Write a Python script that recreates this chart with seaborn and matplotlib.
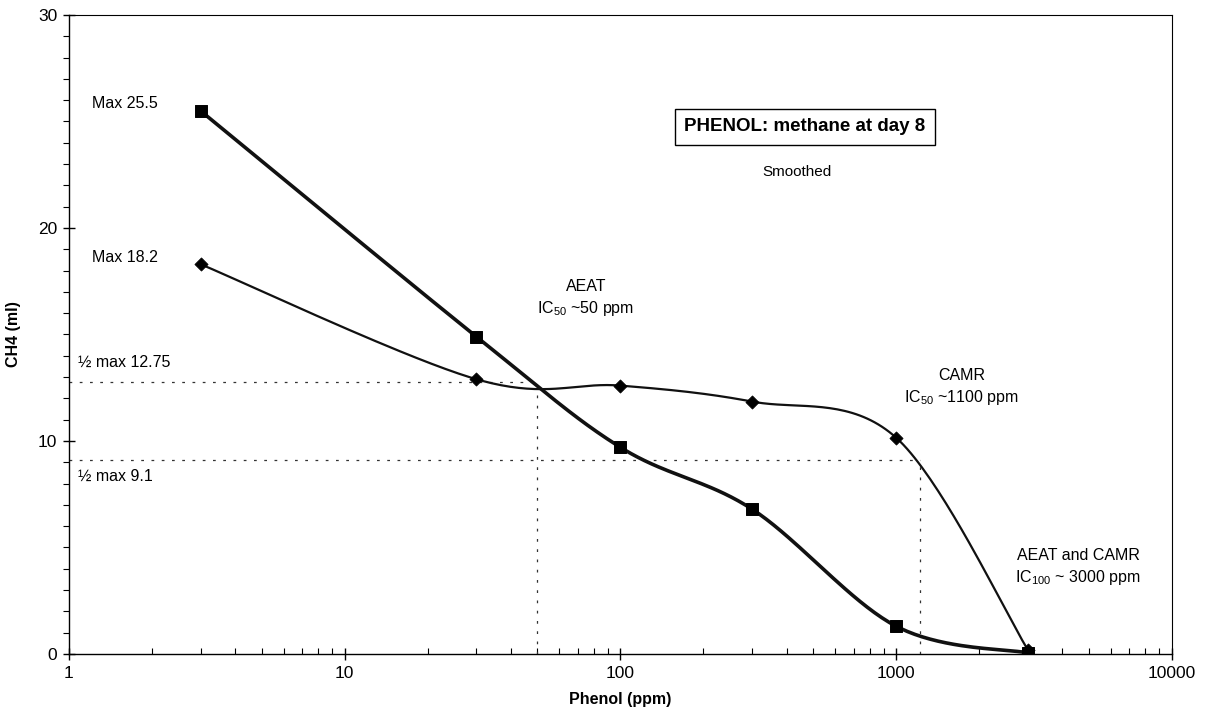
import numpy as np
import pandas as pd
import matplotlib
matplotlib.use("Agg")
import matplotlib.pyplot as plt
import seaborn as sns
from matplotlib.ticker import LogLocator, NullFormatter, FixedLocator, MultipleLocator, FuncFormatter

# ---- data ----
phenol_ppm = [3, 30, 100, 300, 1000, 3000]
aeat_ch4 = [25.5, 14.9, 9.7, 6.8, 1.3, 0.05]
camr_ch4 = [18.3, 12.9, 12.6, 11.85, 10.15, 0.2]
half_max_aeat = 12.75
half_max_camr = 9.1
ic50_aeat = 50
ic50_camr = 1220
x_ticks = [1, 10, 100, 1000, 10000]
y_ticks = [0, 10, 20, 30]

sns.set_style("white")
plt.rcParams["font.family"] = ["Liberation Sans", "DejaVu Sans"]
plt.rcParams["mathtext.fontset"] = "custom"
plt.rcParams["mathtext.rm"] = "Liberation Sans"
plt.rcParams["text.color"] = "black"
plt.rcParams["axes.labelcolor"] = "black"


def smooth(xs, ys, n=40):
    """Bezier (Catmull-Rom style) smoothing in log-x space, like a spreadsheet 'smoothed line'."""
    P = np.column_stack([np.log10(xs), np.asarray(ys, float)])
    Pe = np.vstack([P[0], P, P[-1]])
    out = []
    t = np.linspace(0, 1, n)[:, None]
    for i in range(len(P) - 1):
        p0, p1, p2, p3 = Pe[i], Pe[i + 1], Pe[i + 2], Pe[i + 3]
        b1 = p1 + (p2 - p0) / 6
        b2 = p2 - (p3 - p1) / 6
        seg = (1 - t) ** 3 * p1 + 3 * (1 - t) ** 2 * t * b1 + 3 * (1 - t) * t ** 2 * b2 + t ** 3 * p2
        out.append(seg if i == 0 else seg[1:])
    c = np.vstack(out)
    return 10 ** c[:, 0], c[:, 1]


fig = plt.figure(figsize=(12.06, 7.2), dpi=100)
ax = fig.add_axes([0.0572, 0.0917, 0.9146, 0.8875])
ax.set_xscale("log")

dash = (0, (2.2, 6))
dcol = "#333333"
ax.plot([1, ic50_aeat], [half_max_aeat, half_max_aeat], color=dcol, lw=0.9, ls=dash)
ax.plot([ic50_aeat, ic50_aeat], [0, 12.4], color=dcol, lw=0.9, ls=dash)
ax.plot([1, ic50_camr], [half_max_camr, half_max_camr], color=dcol, lw=0.9, ls=dash)
ax.plot([ic50_camr, ic50_camr], [0, half_max_camr], color=dcol, lw=0.9, ls=dash)

cx, cy = smooth(phenol_ppm, camr_ch4)
sns.lineplot(x=cx, y=cy, sort=False, estimator=None, ax=ax, color="#111111", lw=1.6)
ax_, ay_ = smooth(phenol_ppm, aeat_ch4)
sns.lineplot(x=ax_, y=ay_, sort=False, estimator=None, ax=ax, color="#111111", lw=2.6)

sns.scatterplot(x=phenol_ppm, y=camr_ch4, marker="D", s=45, color="black", edgecolor="black", ax=ax, zorder=5)
sns.scatterplot(x=phenol_ppm, y=aeat_ch4, marker="s", s=75, color="black", edgecolor="black", ax=ax, zorder=6)

ax.set_xlim(1, 10000)
ax.set_ylim(0, 30)
ax.xaxis.set_major_locator(FixedLocator(x_ticks))
ax.xaxis.set_major_formatter(FuncFormatter(lambda v, p: f"{v:g}"))
ax.xaxis.set_minor_locator(LogLocator(base=10, subs=np.arange(2, 10)))
ax.xaxis.set_minor_formatter(NullFormatter())
ax.yaxis.set_major_locator(FixedLocator(y_ticks))
ax.yaxis.set_minor_locator(MultipleLocator(1))

ax.tick_params(axis="both", which="major", direction="inout", length=9, width=1, labelsize=12.5,
               colors="black", labelcolor="black", pad=4)
ax.tick_params(axis="x", which="minor", direction="in", length=4, width=0.8, bottom=True, colors="black")
ax.tick_params(axis="y", which="minor", direction="out", length=4, width=0.8, left=True, colors="black")
ax.tick_params(axis="x", which="major", bottom=True)
ax.tick_params(axis="y", which="major", left=True)
for s in ax.spines.values():
    s.set_color("black")
    s.set_linewidth(1.0)
ax.spines["top"].set_linewidth(0.8)
ax.spines["right"].set_linewidth(0.8)

ax.set_xlabel("Phenol (ppm)", fontsize=11.5, fontweight="bold", labelpad=8)
ax.set_ylabel("CH4 (ml)", fontsize=11.5, fontweight="bold", labelpad=12)

fs = 11.5
yax = ax.get_yaxis_transform()
ax.text(0.0210, 25.85, "Max 25.5", transform=yax, fontsize=fs, va="center")
ax.text(0.0210, 18.6, "Max 18.2", transform=yax, fontsize=fs, va="center")
ax.text(0.0080, 13.7, "½ max 12.75", transform=yax, fontsize=fs, va="center")
ax.text(0.0080, 8.36, "½ max 9.1", transform=yax, fontsize=fs, va="center")

ax.text(0.667, 0.8247, "PHENOL: methane at day 8", transform=ax.transAxes, fontsize=13.5,
        fontweight="bold", ha="center", va="center",
        bbox=dict(boxstyle="square,pad=0.5", fc="white", ec="black", lw=1))
ax.text(0.660, 0.754, "Smoothed", transform=ax.transAxes, fontsize=11, ha="center", va="center")

ax.text(75, 16.68, "AEAT\nIC$_{\\mathregular{50}}$ ~50 ppm", fontsize=fs, ha="center", va="center", linespacing=1.35)
ax.text(1731, 12.53, "CAMR\nIC$_{\\mathregular{50}}$ ~1100 ppm", fontsize=fs, ha="center", va="center", linespacing=1.35)
ax.text(4560, 4.04, "AEAT and CAMR\nIC$_{\\mathregular{100}}$ ~ 3000 ppm", fontsize=fs, ha="center", va="center", linespacing=1.35)

fig.savefig("out.png", dpi=100)
